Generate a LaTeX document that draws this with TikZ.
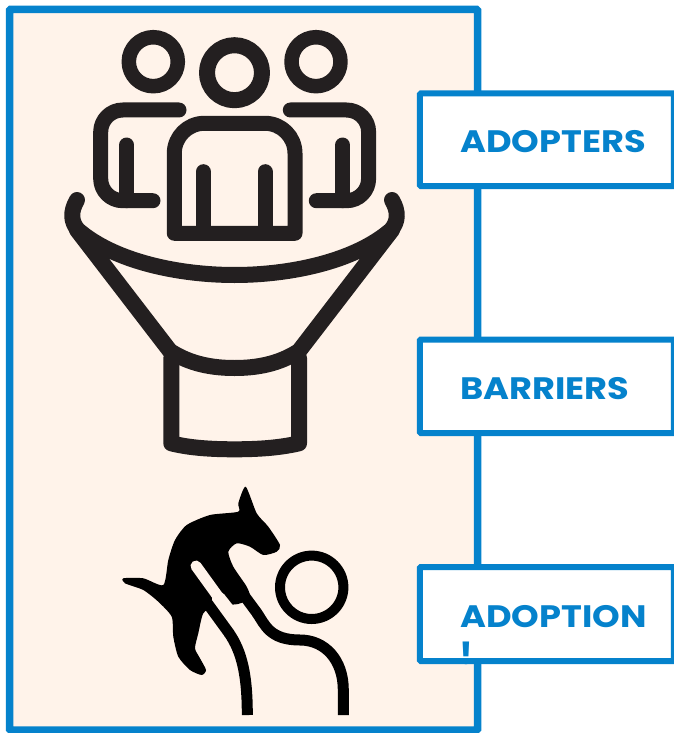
\documentclass[tikz,border=0pt]{standalone}
\usepackage{fontspec}
\setmainfont[FakeStretch=1.135]{Poppins}
\usepackage{xcolor}
\definecolor{framecol}{HTML}{0582CC}
\definecolor{panelcol}{HTML}{FFF3EA}
\definecolor{inkcol}{HTML}{231F20}

\begin{document}
\begin{tikzpicture}[
  x=1pt, y=-1pt,
  panel/.style={fill=panelcol, draw=framecol, line width=7.5pt, rounded corners=1pt},
  tagbox/.style={fill=white, draw=framecol, line width=6pt, rounded corners=1pt, minimum width=254pt, inner sep=0pt},
  taglabel/.style={anchor=base west, inner sep=0pt, font=\fontsize{31}{31}\selectfont\bfseries, text=framecol},
  people/.style={draw=inkcol, line width=15pt, line cap=round, line join=round},
  funnel/.style={draw=inkcol, line width=16pt, line cap=round, line join=round},
  handler/.style={draw=black, line width=11pt},
  carve/.style={draw=panelcol, line cap=round}
]
\clip (0,0) rectangle (674,733);

% Panel behind the icons
\draw[panel] (9.5,9.5) rectangle (477.5,730);

% People on top of the funnel
\draw[people, line width=14.5pt] (153.3,61.7) circle (24.5);
\draw[people, line width=14.5pt] (316,61.7) circle (24.5);
\draw[people, line width=16pt] (234.5,72.7) circle (27.5);
\draw[people] (179,110) [rounded corners=22pt] -- (100.7,110) -- (100.7,200.7) [sharp corners] -- (153,200.7);
\draw[people] (126.7,145) -- (126.7,200.7);
\draw[people] (290.3,110) [rounded corners=22pt] -- (368.6,110) -- (368.6,200.7) [sharp corners] -- (316.3,200.7);
\draw[people] (342.6,145) -- (342.6,200.7);
\draw[people] (174.3,233.3) [rounded corners=30pt] -- (174.3,123.3) -- (295,123.3) [sharp corners] -- (295,233.3) -- cycle;
\draw[people] (203.3,171.7) -- (203.3,233.3);
\draw[people] (265,171.7) -- (265,233.3);

% Funnel
\draw[funnel] (77,200) .. controls (70,212) and (71,222) .. (78,230)
  .. controls (115,262) and (180,275) .. (234.5,275)
  .. controls (289,275) and (354,262) .. (391,230)
  .. controls (398,222) and (399,212) .. (392,200);
\draw[funnel] (77,230) -- (170,351) .. controls (190,364) and (212,368) .. (234.5,368)
  .. controls (257,368) and (279,364) .. (299,351) -- (392,230);
\draw[funnel] (171.3,358) -- (171.3,443.3) .. controls (190,448) and (212,449.3) .. (234.5,449.3)
  .. controls (257,449.3) and (279,448) .. (299,443.3) -- (299,358);

% Dog and the person lifting it
\fill[black] plot[smooth cycle, tension=0.4] coordinates {
  (245.7,486.7) (256.7,513.3) (268.3,526.7) (280,545) (276.7,551.7) (263.3,555)
  (250,546.7) (236.7,543.3) (228.3,551.7) (233.3,566.7) (246.7,586.7) (250,598)
  (238,604) (215,606) (203.3,613.3) (198.3,633.3) (195,648.3) (200,658.3) (206,670)
  (201.7,675) (190,670) (178.3,656.7) (173.3,636.7) (171.7,616.7) (158.3,601.7)
  (143.3,590) (125,583.3) (123.3,578.3) (143.3,578.3) (163.3,585) (168.3,560)
  (175,540) (186.7,525) (210,515) (238.3,511.7) (238.3,503.3)};
\draw[carve, line width=11pt] (196,566) -- (222,602);
\draw[carve, line width=14pt] (219,599) -- (245,632);
\draw[handler, line cap=round] (205,600) -- (229,633);
\draw[handler] (229,633) .. controls (242,652) and (247.3,675) .. (247.3,715);
\draw[handler, line cap=round] (240,590) -- (257,613);
\draw[handler] (257,613) .. controls (265,625) and (270,640) .. (300,640)
  .. controls (325,640) and (343.3,660) .. (343.3,690) -- (343.3,715);
\draw[handler, line width=10pt] (311.7,587.3) circle (31.7);

% Boxes on the right edge
\node[tagbox, minimum height=92.5pt] (adoptersbox) at (546.75,139.75) {};
\node[tagbox, minimum height=93.5pt] (barriersbox) at (546.75,386.25) {};
\node[tagbox, minimum height=94pt] (adoptionbox) at (546.75,614) {};

\node[taglabel] (adopterstag) at (460,152) {ADOPTERS};
\node[taglabel] (barrierstag) at (460,399) {BARRIERS};
\node[taglabel] (adoptiontag) at (460,627) {ADOPTION};
\node[taglabel] (cuttag) at (459.5,664.5) {!};

\end{tikzpicture}
\end{document}
